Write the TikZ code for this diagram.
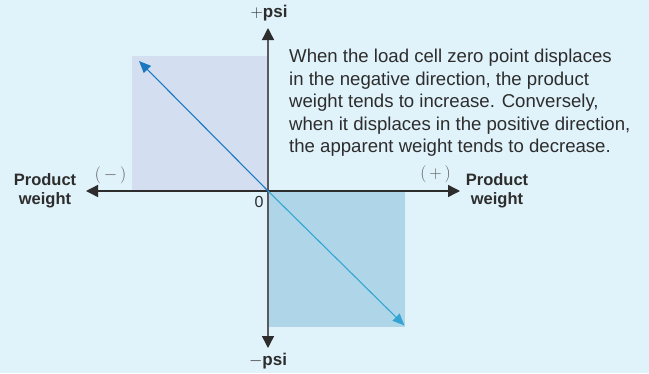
\documentclass[tikz,border=0pt]{standalone}
\usepackage{fontspec}
\setmainfont{Liberation Sans}
\usetikzlibrary{arrows.meta}
\definecolor{bgblue}{RGB}{224,242,250}
\definecolor{upperblue}{RGB}{211,223,240}
\definecolor{lowerblue}{RGB}{174,214,232}
\definecolor{darkarrow}{RGB}{27,120,192}
\definecolor{lightarrow}{RGB}{52,165,210}
\definecolor{textgray}{RGB}{45,45,45}
\definecolor{signgray}{RGB}{90,90,90}
\begin{document}
\begin{tikzpicture}[x=1bp,y=-1bp,
  axis/.style={line width=1.4bp,{Triangle[length=12bp,width=12bp,color=textgray]}-{Triangle[length=12bp,width=12bp,color=textgray]}},
  diag/.style={line width=1.1bp,-{Triangle[length=12bp,width=10bp]}},
  wlabel/.style={font=\fontsize{16.5bp}{19bp}\selectfont\bfseries,text=textgray,align=center,inner sep=0pt},
  psilabel/.style={font=\fontsize{17bp}{20bp}\selectfont,text=textgray,inner sep=0pt},
  sign/.style={font=\fontsize{16bp}{19bp}\selectfont,text=signgray,inner sep=0pt}]
\fill[bgblue](0,0)rectangle(649,373);
\coordinate(O)at(268,191);\coordinate(L)at(86,191);\coordinate(R)at(460,191);\coordinate(T)at(268,28);\coordinate(B)at(268,348);
\coordinate(UL)at(132,56);\coordinate(LR)at(405,327);\coordinate(P1)at(139,61);\coordinate(P2)at(404.5,325.5);
\fill[upperblue](UL)rectangle(O);\fill[lowerblue](O)rectangle(LR);
\draw[axis,draw=signgray](B)--(T);
\draw[axis,draw=textgray](L)--(R);
\draw[diag,darkarrow](O)--(P1);\draw[diag,lightarrow](O)--(P2);
% labels
\node[psilabel](ptop)at(269,13){$+$\textbf{psi}};
\node[psilabel](pbot)at(268,361){$-$\textbf{psi}};
\node[wlabel](wleft)at(45,191){Product\\weight};
\node[wlabel](wright)at(497,191){Product\\weight};
\node[sign](mneg)at(110.5,175){$(\,-\,)$};
\node[sign](mpos)at(435.5,174){$(\,+\,)$};
\node[sign,text=textgray](zero)at(259,202){0};
\node[anchor=north west,inner sep=0pt,align=left,text=textgray,font=\fontsize{18.6bp}{22.5bp}\selectfont](note)at(289,49){When the load cell zero point displaces\\in the negative direction, the product\\weight tends to increase. Conversely,\\when it displaces in the positive direction,\\the apparent weight tends to decrease.};
\end{tikzpicture}
\end{document}
